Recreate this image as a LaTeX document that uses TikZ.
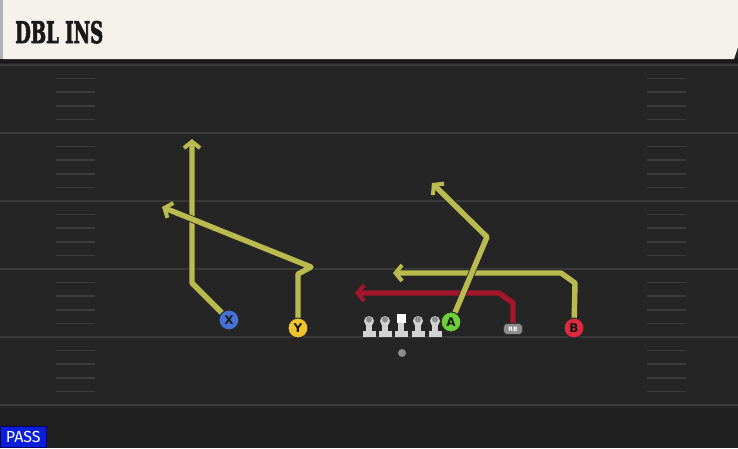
\documentclass[tikz,border=0pt]{standalone}
\usepackage{fontspec}
\setmainfont{DejaVu Sans}
\newfontfamily\titlefont[FakeBold=3]{DejaVu Serif Bold}
\newfontfamily\passfont{Fira Sans}
\usetikzlibrary{arrows.meta}
\definecolor{field}{HTML}{252525}
\definecolor{fieldlow}{HTML}{202020}
\definecolor{yardline}{HTML}{3A3A3A}
\definecolor{hash}{HTML}{3C3C3C}
\definecolor{cream}{HTML}{F4F2EB}
\definecolor{route}{HTML}{BABA4E}
\definecolor{rbroute}{HTML}{A3162C}
\definecolor{xblue}{HTML}{4373D6}
\definecolor{yyellow}{HTML}{F2C42C}
\definecolor{agreen}{HTML}{6BD03A}
\definecolor{bred}{HTML}{E0293F}
\definecolor{lineman}{HTML}{D2D2D2}
\definecolor{passblue}{HTML}{0A1EDC}
\tikzset{
  player/.style={circle, draw=black!85, line width=1pt, minimum size=20pt, inner sep=0pt,
    font=\bfseries\fontsize{12}{12}\selectfont, text=black!90},
  rbbox/.style={draw=black!80, fill=black!45, rounded corners=3.5pt, line width=0.8pt,
    minimum width=19pt, minimum height=11pt, inner sep=0pt, text=white,
    font=\bfseries\fontsize{6}{6}\selectfont},
  routeline/.style={line width=5.4pt, line cap=round, line join=round, color=route,
    -{Straight Barb[length=6.5pt,width=16pt,line width=4pt]}},
  routeshadow/.style={line width=7pt, line cap=round, line join=round, color=black!85,
    -{Straight Barb[length=6.5pt,width=16pt,line width=5.6pt]}},
  rbline/.style={routeline, color=rbroute},
  olm/.style={fill=lineman},
}
\begin{document}
\begin{tikzpicture}[x=1pt,y=-1pt]
\useasboundingbox (0,0) rectangle (738,448);
% field
\fill[field] (0,0) rectangle (738,448);
\fill[fieldlow] (0,408) rectangle (738,448);
% yard lines
\foreach \k in {0,...,5}
  \draw[yardline, line width=2pt] (0,65+68*\k) -- (738,65+68*\k);
% hash marks
\foreach \k in {1,...,24}{
  \pgfmathtruncatemacro{\r}{mod(\k,5)}
  \ifnum\r>0
    \draw[hash, line width=1.6pt] (56,65+13.6*\k) -- (95,65+13.6*\k);
    \draw[hash, line width=1.6pt] (647,65+13.6*\k) -- (686,65+13.6*\k);
  \fi
}
% header
\fill[black!90] (0,58) rectangle (738,63);
\fill[cream] (3,0) -- (738,0) -- (738,47) -- (734,59) -- (3,59) -- cycle;
\fill[black!30] (0,0) rectangle (3,59);
\node[anchor=base west, inner sep=0pt, text=black!90] (title) at (15,43)
  {\resizebox{88pt}{22pt}{\titlefont DBL INS}};
% PASS tag
\node[anchor=south west, fill=passblue, draw=blue!40!black, line width=0.6pt,
  minimum width=46pt, minimum height=21pt, inner sep=0pt, text=white,
  font=\passfont\fontsize{16}{16}\selectfont] (pass) at (0,448) {PASS};
% players
\node[player, fill=xblue] (X) at (229,320) {X};
\node[player, fill=yyellow] (Y) at (298,328) {Y};
\node[player, fill=agreen] (A) at (451,322) {A};
\node[player, fill=bred] (B) at (574,328) {B};
\node[rbbox] (RB) at (513,329) {RB};
% waypoints
\coordinate (x1) at (192,283);
\coordinate (xt) at (192,139);
\coordinate (y1) at (298,274);
\coordinate (y2) at (311,267);
\coordinate (yt) at (162,207);
\coordinate (a1) at (487,237);
\coordinate (at) at (432,183);
\coordinate (b1) at (575,283);
\coordinate (b2) at (561,273);
\coordinate (bt) at (393,273);
\coordinate (r1) at (513,303);
\coordinate (r2) at (499,293);
\coordinate (rt) at (355,293);
% routes
\draw[routeshadow] (X) -- (x1) -- (xt);
\draw[routeline] (X) -- (x1) -- (xt);
\draw[routeshadow] (Y) -- (y1) -- (y2) -- (yt);
\draw[routeline] (Y) -- (y1) -- (y2) -- (yt);
\draw[routeshadow] (B) -- (b1) -- (b2) -- (bt);
\draw[routeline] (B) -- (b1) -- (b2) -- (bt);
\draw[routeshadow] (RB) -- (r1) -- (r2) -- (rt);
\draw[rbline] (RB) -- (r1) -- (r2) -- (rt);
\draw[routeshadow] (A) -- (a1) -- (at);
\draw[routeline] (A) -- (a1) -- (at);
% redraw players on top
\node[player, fill=xblue] at (X) {X};
\node[player, fill=yyellow] at (Y) {Y};
\node[player, fill=agreen] at (A) {A};
\node[player, fill=bred] at (B) {B};
\node[rbbox] at (RB) {RB};
% offensive line
\foreach \lx/\nm in {369/lt,385/lg,418/rg,435/rt}{
  \fill[olm] (\lx-6.5,331) rectangle (\lx+6.5,336.5);
  \fill[olm] (\lx-2.8,322) rectangle (\lx+2.8,332);
  \fill[olm] (\lx,321) circle (5pt);
  \fill[black!45] (\lx,319.5) circle (3pt);
  \coordinate (\nm) at (\lx,328);
}
\fill[olm] (394.5,331) rectangle (407.5,336.5);
\fill[olm] (398.2,322) rectangle (403.8,332);
\node[fill=white, minimum size=9pt, inner sep=0pt] (C) at (401,318.5) {};
% ball
\node[circle, fill=black!45, minimum size=8pt, inner sep=0pt] (ball) at (402,353) {};
\end{tikzpicture}
\end{document}
